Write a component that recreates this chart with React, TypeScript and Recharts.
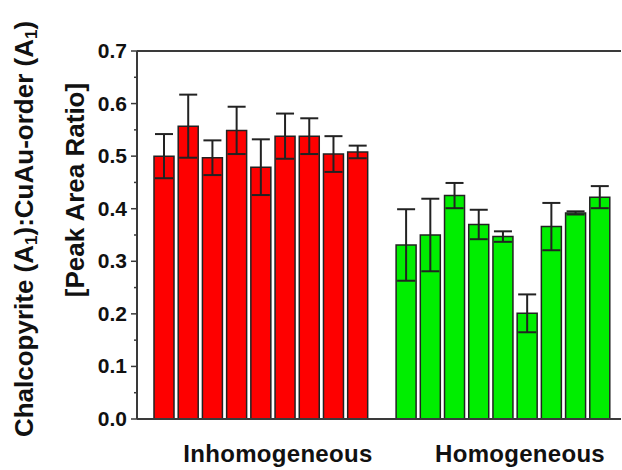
import React from "react";
import { BarChart, Bar, XAxis, YAxis, ErrorBar, Cell } from "recharts";

const categories = ["I1","I2","I3","I4","I5","I6","I7","I8","I9","gap","H1","H2","H3","H4","H5","H6","H7","H8","H9"];
const values = [0.500,0.557,0.497,0.549,0.479,0.538,0.538,0.504,0.508,null,0.331,0.350,0.425,0.370,0.347,0.201,0.366,0.392,0.422];
const errors = [0.042,0.060,0.033,0.045,0.053,0.043,0.034,0.034,0.012,null,0.068,0.069,0.024,0.028,0.010,0.036,0.045,0.003,0.021];
const groups = ["inh","inh","inh","inh","inh","inh","inh","inh","inh","none","hom","hom","hom","hom","hom","hom","hom","hom","hom"];
const groupLabels: Record<number, string> = { 4: "Inhomogeneous", 14: "Homogeneous" };
const yTicks = [0,0.05,0.1,0.15,0.2,0.25,0.3,0.35,0.4,0.45,0.5,0.55,0.6,0.65,0.7];
const yTickLabels = ["0.0","","0.1","","0.2","","0.3","","0.4","","0.5","","0.6","","0.7"];

const data = categories.map((c, i) => ({ name: c, value: values[i], err: errors[i], group: groups[i] }));
const colors: Record<string, string> = { inh: "#fe0000", hom: "#00ee00", none: "transparent" };

const FONT = "'Liberation Sans', Arial, sans-serif";
const AXIS = "#3a3a3a";

const YTick = (props: any) => {
  const { x, y, index } = props;
  const label = yTickLabels[index];
  const major = label !== "";
  return (
    <g>
      <line x1={x - (major ? 6 : 3)} x2={x} y1={y} y2={y} stroke={AXIS} strokeWidth={1.5} />
      {major && (
        <text x={x - 10} y={y} dy={7} textAnchor="end" fontFamily={FONT} fontWeight="bold" fontSize={21} fill="#111">
          {label}
        </text>
      )}
    </g>
  );
};

const XTick = (props: any) => {
  const { x, index } = props;
  const label = groupLabels[index];
  if (!label) return <g />;
  return (
    <text x={x + 17} y={462} textAnchor="middle" fontFamily={FONT} fontWeight="bold" fontSize={24} letterSpacing={0.3} fill="#111">
      {label}
    </text>
  );
};

const YLabel = () => (
  <g fontFamily={FONT} fontWeight="bold" fontSize={26} fill="#111">
    <text x={33} y={229} textAnchor="middle" transform="rotate(-90, 33, 229)">
      Chalcopyrite (A<tspan fontSize={17} dy={4}>1</tspan><tspan dy={-4}>):CuAu-order (A</tspan><tspan fontSize={17} dy={4}>1</tspan><tspan dy={-4}>)</tspan>
    </text>
    <text x={84} y={190} textAnchor="middle" transform="rotate(-90, 84, 190)">
      [Peak Area Ratio]
    </text>
  </g>
);

export default function App() {
  return (
    <div style={{ position: "absolute", left: 0, top: 0, width: 622, height: 470, overflow: "hidden", background: "#fff" }}>
      <BarChart width={622} height={470} data={data} margin={{ top: 50, right: 1, bottom: 0, left: 0 }}>
        <XAxis
          dataKey="name"
          padding={{ left: 15, right: 9 }}
          axisLine={{ stroke: AXIS, strokeWidth: 2 }}
          tickLine={false}
          tick={<XTick />}
          interval={0}
          height={51}
        />
        <XAxis
          xAxisId="top"
          dataKey="name"
          orientation="top"
          axisLine={{ stroke: AXIS, strokeWidth: 2 }}
          tickLine={false}
          tick={false}
          height={1}
        />
        <YAxis
          domain={[0, 0.7]}
          ticks={yTicks}
          interval={0}
          width={137}
          axisLine={{ stroke: AXIS, strokeWidth: 2 }}
          tickLine={false}
          tickSize={0}
          tickMargin={0}
          tick={<YTick />}
          label={<YLabel />}
        />
        <Bar dataKey="value" barSize={20} stroke="#222" strokeWidth={1.5} isAnimationActive={false}>
          {data.map((d, i) => (
            <Cell key={i} fill={colors[d.group]} stroke={d.value == null ? "none" : "#222"} />
          ))}
          <ErrorBar dataKey="err" width={9} stroke="#222" strokeWidth={2} />
        </Bar>
      </BarChart>
    </div>
  );
}
